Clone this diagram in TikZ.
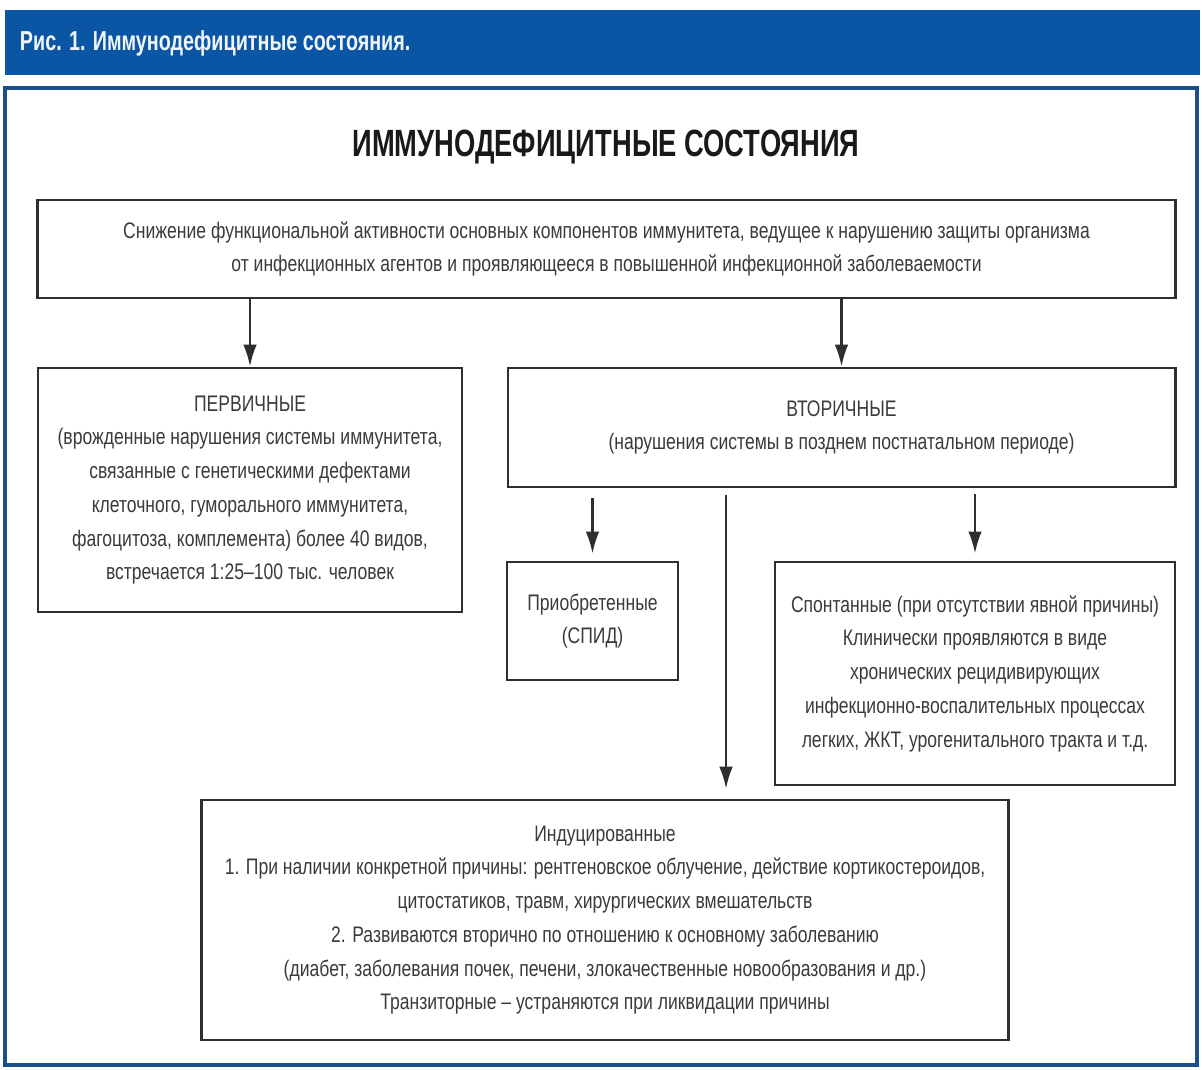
\documentclass[tikz,border=0pt]{standalone}
\usepackage{fontspec}
\setmainfont{Liberation Sans}[FakeStretch=0.78]
\newfontfamily\headfont{Liberation Sans}[FakeStretch=0.72]
\usepackage{tikz}
\usetikzlibrary{arrows.meta,positioning,calc}
\definecolor{barblue}{HTML}{0B55A5}
\definecolor{frameblue}{HTML}{1A4F8C}
\definecolor{textgray}{HTML}{3A3A3A}
\definecolor{linegray}{HTML}{2E2E2E}
\tikzset{
  box/.style={draw=linegray, line width=2pt, align=center, inner sep=0pt,
    text=textgray, font=\fontsize{16}{24}\selectfont},
  arr/.style={draw=linegray, line width=1.7pt, -{Latex[length=0.55cm,width=0.34cm]}}
}

\begin{document}
\begin{tikzpicture}[x=0.025cm,y=-0.025cm]
  \useasboundingbox (0,0) rectangle (1202,1070);

  % Header bar and frame
  \fill[barblue] (5,10) rectangle (1200,75);
  \node[anchor=west, text=white!94!barblue, font=\headfont\fontsize{19.5}{21}\selectfont\bfseries] (head) at (15,43) {Рис. 1. Иммунодефицитные состояния.};
  \draw[frameblue, line width=2.2pt] (5,88) rectangle (1197,1065);

  % Title
  \node[text=black!90, font=\headfont\fontsize{27}{32}\selectfont\bfseries] (title) at (606,147) {ИММУНОДЕФИЦИТНЫЕ СОСТОЯНИЯ};

  % Boxes
  \node[box, minimum width=28.425cm, minimum height=2.45cm] (def) at (606.5,249)
    {Снижение функциональной активности основных компонентов иммунитета, ведущее к нарушению защиты организма\\
     от инфекционных агентов и проявляющееся в повышенной инфекционной заболеваемости};
  \node[box, minimum width=10.6cm, minimum height=6.1cm] (prim) at (250,490)
    {ПЕРВИЧНЫЕ\\
     (врожденные нарушения системы иммунитета,\\
     связанные с генетическими дефектами\\
     клеточного, гуморального иммунитета,\\
     фагоцитоза, комплемента) более 40 видов,\\
     встречается 1:25–100 тыс. человек};
  \node[box, minimum width=16.675cm, minimum height=2.975cm] (sec) at (841.5,427.5)
    {ВТОРИЧНЫЕ\\
     (нарушения системы в позднем постнатальном периоде)};
  \node[box, minimum width=4.275cm, minimum height=2.95cm] (acq) at (592.5,621)
    {Приобретенные\\ (СПИД)};
  \node[box, minimum width=10cm, minimum height=5.575cm] (spont) at (975,673.5)
    {Спонтанные (при отсутствии явной причины)\\
     Клинически проявляются в виде\\
     хронических рецидивирующих\\
     инфекционно-воспалительных процессах\\
     легких, ЖКТ, урогенитального тракта и т.д.};
  \node[box, minimum width=20.15cm, minimum height=6cm] (ind) at (605,920)
    {Индуцированные\\
     1. При наличии конкретной причины: рентгеновское облучение, действие кортикостероидов,\\
     цитостатиков, травм, хирургических вмешательств\\
     2. Развиваются вторично по отношению к основному заболеванию\\
     (диабет, заболевания почек, печени, злокачественные новообразования и др.)\\
     Транзиторные – устраняются при ликвидации причины};

  % Arrows
  \coordinate (split) at (726,487);
  \draw[arr] (def.south -| prim.north) -- (prim.north);
  \draw[arr] (def.south -| sec.north) -- (sec.north);
  \draw[arr, shorten <=7pt, shorten >=5pt] (sec.south -| acq.north) -- (acq.north);
  \draw[arr, shorten <=4pt, shorten >=5pt] (sec.south -| spont.north) -- (spont.north);
  \draw[arr, shorten <=6pt, shorten >=7pt] (split) -- (split |- ind.north);
\end{tikzpicture}
\end{document}
